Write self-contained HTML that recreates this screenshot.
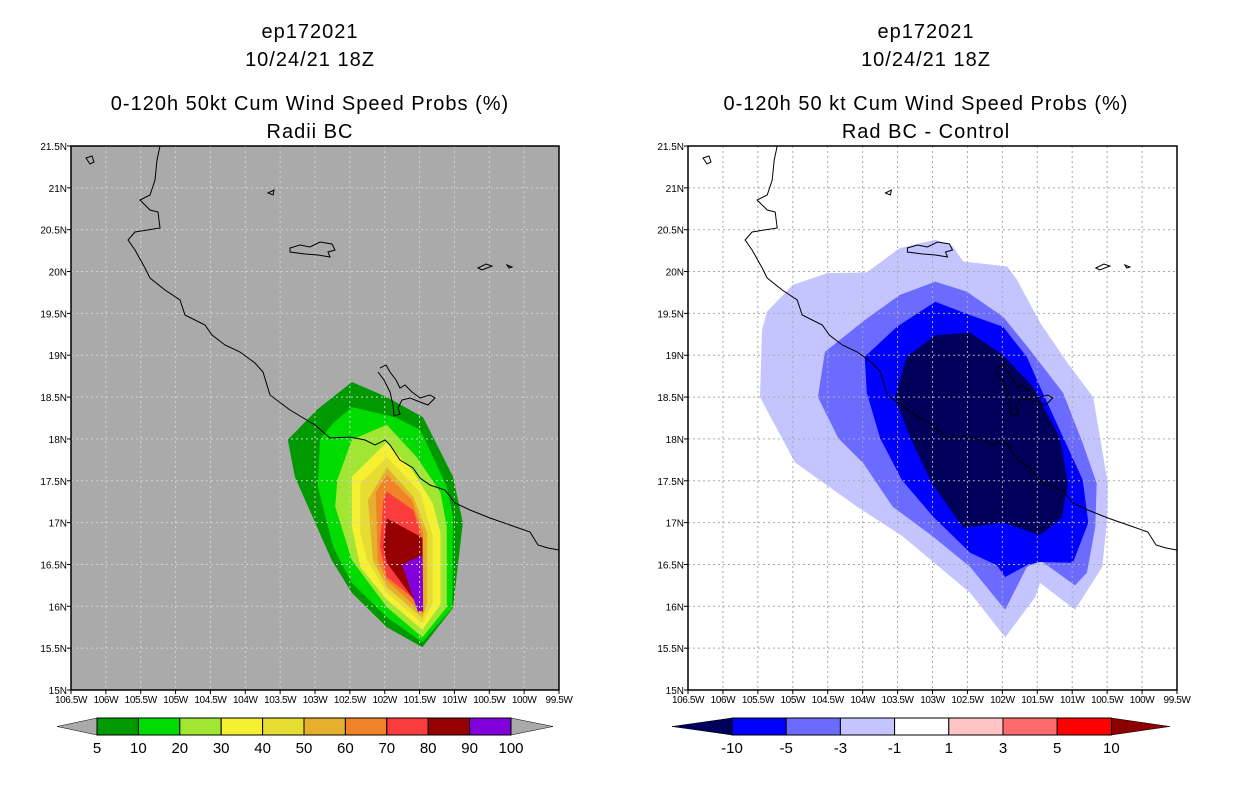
<!DOCTYPE html>
<html><head><meta charset="utf-8"><style>
body{margin:0;background:#fff;}
svg{display:block;font-family:"Liberation Sans",sans-serif;}
</style></head><body>
<svg id="s" width="1236" height="800" viewBox="0 0 1236 800"></svg>
<script>
// ---- data ----
const lonTicks=['106.5W','106W','105.5W','105W','104.5W','104W','103.5W','103W','102.5W','102W','101.5W','101W','100.5W','100W','99.5W'];
const latTicks=['15N','15.5N','16N','16.5N','17N','17.5N','18N','18.5N','19N','19.5N','20N','20.5N','21N','21.5N'];
const leftLevels=['5','10','20','30','40','50','60','70','80','90','100'];
const leftColors=['#009a00','#00dc00','#a0e632','#f5f032','#e6dc32','#e6af2d','#f08228','#fa3c3c','#960000','#8200dc'];
const rightLevels=['-10','-5','-3','-1','1','3','5','10'];
const rightSwatchColors=['#0000ff','#6b6bff','#c4c4ff','#ffffff','#ffc4c4','#ff6b6b','#ff0000'];
const leftPolys=[
[[-102.47,18.68],[-101.97,18.5],[-101.45,18.26],[-101.02,17.55],[-100.88,17.0],[-101.02,15.98],[-101.46,15.51],[-101.97,15.75],[-102.47,16.16],[-102.76,16.55],[-103.29,17.55],[-103.39,17.99],[-102.97,18.35]],
[[-102.47,18.38],[-101.85,18.26],[-101.49,18.11],[-101.11,17.43],[-101.02,17.07],[-101.03,15.98],[-101.46,15.57],[-101.97,15.87],[-102.47,16.28],[-102.74,16.71],[-102.96,17.43],[-102.93,17.99],[-102.74,18.19]],
[[-101.97,18.17],[-101.54,17.78],[-101.2,17.36],[-101.11,16.95],[-101.11,15.99],[-101.46,15.63],[-101.97,15.99],[-102.47,16.55],[-102.71,17.19],[-102.68,17.51],[-102.47,17.99]],
[[-101.97,17.96],[-101.61,17.63],[-101.31,17.23],[-101.2,16.88],[-101.2,16.02],[-101.46,15.72],[-101.97,16.08],[-102.35,16.47],[-102.47,16.95],[-102.47,17.55]],
[[-101.97,17.78],[-101.49,17.36],[-101.31,16.83],[-101.31,16.04],[-101.46,15.8],[-101.97,16.16],[-102.25,16.55],[-102.35,16.88],[-102.35,17.47]],
[[-101.97,17.66],[-101.59,17.31],[-101.39,16.88],[-101.39,16.04],[-101.46,15.86],[-101.97,16.23],[-102.17,16.55],[-102.24,17.27]],
[[-101.97,17.57],[-101.61,17.27],[-101.45,16.88],[-101.45,16.02],[-101.46,15.92],[-101.97,16.31],[-102.1,16.55],[-102.13,17.36]],
[[-101.97,17.37],[-101.59,17.15],[-101.49,16.88],[-101.45,16.0],[-101.97,16.35],[-102.07,16.71],[-102.02,17.27]],
[[-101.97,17.05],[-101.46,16.82],[-101.45,15.93],[-101.97,16.52],[-102.02,16.71]],
[[-101.75,16.5],[-101.46,16.61],[-101.45,15.96],[-101.52,15.93]]
];
const rightPolyColors=['#c4c4ff','#6b6bff','#0000ff','#00005a'];
const rightPolys=[
[[-102.96,20.38],[-102.71,20.30],[-102.56,20.12],[-101.93,20.06],[-101.79,19.90],[-101.46,19.39],[-101.07,18.91],[-100.70,18.50],[-100.49,17.47],[-100.50,17.03],[-100.57,16.47],[-100.96,15.96],[-101.46,16.28],[-101.53,16.11],[-101.96,15.63],[-102.46,16.16],[-103.42,16.83],[-104.08,17.19],[-104.97,17.72],[-105.47,18.50],[-105.44,19.30],[-105.37,19.52],[-105.0,19.84],[-104.51,19.98],[-103.94,19.99],[-103.47,20.28]],
[[-102.96,19.88],[-102.51,19.76],[-101.99,19.46],[-101.60,19.06],[-101.13,18.55],[-100.85,17.95],[-100.65,17.47],[-100.67,16.95],[-100.79,16.40],[-100.96,16.25],[-101.46,16.55],[-101.65,16.47],[-101.96,15.96],[-102.46,16.47],[-102.99,16.83],[-103.57,17.19],[-103.99,17.71],[-104.35,18.01],[-104.64,18.50],[-104.54,19.04],[-103.97,19.42],[-103.47,19.72]],
[[-102.96,19.64],[-102.46,19.48],[-101.99,19.34],[-101.65,18.98],[-101.46,18.62],[-101.13,18.02],[-100.85,17.51],[-100.77,17.0],[-100.99,16.52],[-101.46,16.53],[-101.65,16.49],[-101.96,16.35],[-102.08,16.49],[-102.46,16.64],[-102.99,17.07],[-103.44,17.51],[-103.75,18.01],[-103.94,18.55],[-103.97,18.98],[-103.51,19.34]],
[[-102.96,19.24],[-102.46,19.27],[-101.99,19.0],[-101.56,18.62],[-101.18,18.02],[-101.06,17.47],[-101.15,17.06],[-101.46,16.85],[-101.99,17.0],[-102.56,16.94],[-103.01,17.47],[-103.32,18.02],[-103.54,18.50],[-103.37,18.98]]
];
// coastline in left-panel pixel space (base map geometry)
const coastPx=[[160,146],[157,160],[155,180],[150,195],[140,200],[150,210],[158,212],[160,228],[135,232],[128,240],[135,250],[145,268],[150,278],[165,290],[180,300],[185,315],[205,325],[212,335],[225,345],[240,352],[255,363],[263,372],[270,395],[290,410],[315,425],[330,438],[350,437],[365,440],[375,445],[385,440],[390,445],[400,460],[413,468],[420,478],[430,485],[445,490],[455,503],[470,510],[490,518],[510,525],[530,532],[538,545],[548,548],[559,550]];
const islandsPx=[
[[290,248],[300,245],[310,247],[320,242],[332,244],[335,250],[328,252],[330,257],[318,255],[305,254],[290,252]],
[[86,158],[92,156],[94,162],[90,164]],
[[268,193],[274,190],[273,195]],
[[478,268],[486,264],[492,266],[482,270]],
[[507,265],[512,267],[509,268]]];
const lakePx=[[380,368],[386,365],[390,372],[396,380],[400,388],[405,385],[412,392],[420,398],[430,395],[435,398],[428,405],[420,402],[410,398],[402,400],[398,408],[400,414],[394,416],[393,405],[390,392],[384,380],[378,372]];

const NS='http://www.w3.org/2000/svg';
const svg=document.getElementById('s');
function el(tag,attrs,parent){const e=document.createElementNS(NS,tag);for(const k in attrs)e.setAttribute(k,attrs[k]);(parent||svg).appendChild(e);return e;}

function makePanel(x0,x1){
  const y0=146,y1=690;
  const X=lon=>x0+(lon+106.5)/7*(x1-x0);
  const Y=lat=>y1-(lat-15)/6.5*(y1-y0);
  const invLon=px=>-106.5+(px-71)/(559-71)*7;
  const invLat=py=>21.5-(py-146)/544*6.5;
  return {x0,x1,y0,y1,X,Y,invLon,invLat};
}
function drawPanel(P,bg,polys,colors,gridCol,pname){
  const g=el('g',{});
  
  
  const r=el('rect',{x:P.x0,y:P.y0,width:P.x1-P.x0,height:P.y1-P.y0,fill:bg},g);
  
  
  polys.forEach((poly,i)=>{
    const p=el('polygon',{points:poly.map(q=>P.X(q[0]).toFixed(1)+','+P.Y(q[1]).toFixed(1)).join(' '),fill:colors[i]},g);
    
    
  });
  for(let i=1;i<lonTicks.length-1;i++){
    const x=P.X(-106.5+i*0.5);
    const l=el('line',{x1:x,y1:P.y0,x2:x,y2:P.y1,stroke:gridCol,'stroke-width':1,'stroke-dasharray':'2,3'},g);
    
    
  }
  for(let i=1;i<latTicks.length-1;i++){
    const y=P.Y(15+i*0.5);
    const l=el('line',{x1:P.x0,y1:y,x2:P.x1,y2:y,stroke:gridCol,'stroke-width':1,'stroke-dasharray':'2,3'},g);
    
    
  }
  const toPts=arr=>arr.map(q=>P.X(P.invLon(q[0])).toFixed(1)+','+P.Y(P.invLat(q[1])).toFixed(1)).join(' ');
  const c=el('polyline',{points:toPts(coastPx),fill:'none',stroke:'#000','stroke-width':1},g);
  
  
  islandsPx.forEach(isl=>{const e=el('polygon',{points:toPts(isl),fill:'none',stroke:'#000','stroke-width':1},g);
    
    });
  const lk=el('polyline',{points:toPts(lakePx),fill:'none',stroke:'#000','stroke-width':1},g);
  
  
  const fr=el('rect',{x:P.x0,y:P.y0,width:P.x1-P.x0,height:P.y1-P.y0,fill:'none',stroke:'#000','stroke-width':1.5},g);
  
  
  lonTicks.forEach((t,i)=>{
    const x=P.X(-106.5+i*0.5);
    el('line',{x1:x,y1:P.y1,x2:x,y2:P.y1+4,stroke:'#000'},g);
    const tx=el('text',{x:x,y:P.y1+13,'font-size':10,'text-anchor':'middle','letter-spacing':'-0.4'},g);
    tx.textContent=t;
    
    
  });
  latTicks.forEach((t,i)=>{
    const y=P.Y(15+i*0.5);
    el('line',{x1:P.x0-4,y1:y,x2:P.x0,y2:y,stroke:'#000'},g);
    const tx=el('text',{x:P.x0-4,y:y+4,'font-size':10,'text-anchor':'end'},g);
    tx.textContent=t;
    
    
  });
}
function titles(cx,lines,pname){
  const ys=[38,66,110,138];
  lines.forEach((s,i)=>{
    const t=el('text',{x:cx,y:ys[i],'font-size':20,'text-anchor':'middle','letter-spacing':'1'});
    t.textContent=s;
    
    
  });
}
function colorbar(xL,xs,xR,colors,labels,leftTri,rightTri,pname){
  const y0=718,y1=735,ym=726.5;
  const g=el('g',{});
  
  
  const n=xs.length-1;
  const a=el('polygon',{points:`${xL},${ym} ${xs[0]},${y0} ${xs[0]},${y1}`,fill:leftTri,stroke:'#000','stroke-width':0.5},g);
  
  
  const b=el('polygon',{points:`${xR},${ym} ${xs[n]},${y0} ${xs[n]},${y1}`,fill:rightTri,stroke:'#000','stroke-width':0.5},g);
  
  
  for(let i=0;i<n;i++){
    const r=el('rect',{x:xs[i],y:y0,width:xs[i+1]-xs[i],height:y1-y0,fill:colors[i],stroke:'#000','stroke-width':1},g);
    
    
  }
  labels.forEach((l,i)=>{
    const t=el('text',{x:xs[i],y:753,'font-size':15,'text-anchor':'middle'},g);
    t.textContent=l;
    
    
  });
}
const L=makePanel(71,559), R=makePanel(688,1177);
drawPanel(L,'#aaaaaa',leftPolys,leftColors,'#d2d2d2','left');
drawPanel(R,'#ffffff',rightPolys,rightPolyColors,'#aaaaaa','right');
titles(310,['ep172021','10/24/21 18Z','0-120h 50kt Cum Wind Speed Probs (%)','Radii BC'],'left');
titles(926,['ep172021','10/24/21 18Z','0-120h 50 kt Cum Wind Speed Probs (%)','Rad BC - Control'],'right');
const lxs=leftLevels.map((_,i)=>97+i*41.4);
colorbar(57,lxs,553,leftColors,leftLevels,'#aaaaaa','#aaaaaa','left');
const rxs=rightLevels.map((_,i)=>732+i*54.2);
colorbar(672,rxs,1170,rightSwatchColors,rightLevels,'#00005a','#8b0000','right');
</script>
</body></html>
